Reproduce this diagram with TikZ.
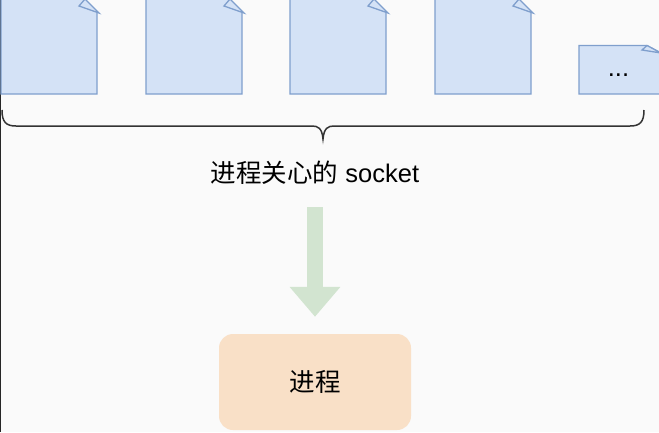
\documentclass[tikz,border=0pt]{standalone}
\usepackage{fontspec}
\setmainfont{Liberation Sans}
\newfontfamily\cjk{Noto Sans CJK SC}
\usetikzlibrary{arrows.meta}
\definecolor{pagefill}{HTML}{D4E2F6}
\definecolor{pageline}{HTML}{7F9FCD}
\definecolor{arrowfill}{HTML}{D2E4D0}
\definecolor{procfill}{HTML}{F9E0C7}
\definecolor{backfill}{HTML}{FAFAFA}
\tikzset{
  pagestyle/.style={draw=pageline,fill=pagefill,line width=1.3pt,line join=miter},
  bracestyle/.style={draw=black!80,line width=1.5pt},
  labelstyle/.style={font=\fontsize{25.5}{30}\selectfont,inner sep=0pt},
}

\begin{document}
\begin{tikzpicture}[x=1pt,y=-1pt]

\useasboundingbox (0,0) rectangle (659,432);
\clip (0,0) rectangle (659,432);
\fill[backfill] (0,0) rectangle (659,432);
\draw[black!85,line width=1.2pt] (0.5,0)--(0.5,432);

% tall pages
\foreach \x in {1,146,290,435}{
  \draw[pagestyle] (\x,-10)--(\x,94)--(\x+96,94)--(\x+96,12)--(\x+83,-1)--(\x+83,-10)--cycle;
  \draw[pagestyle] (\x+84,-1)--(\x+78,6)--(\x+98,13)--cycle;
}

% short page
\draw[pagestyle] (579,45.5)--(579,94)--(670,94)--(670,55)--(659,52)--(647,45.5)--cycle;
\draw[pagestyle] (647,45.5)--(642,50)--(661,53)--cycle;
\node[labelstyle] (dots) at (618.5,75) {...};

% brace
\coordinate (braceleft) at (2,110);
\coordinate (braceright) at (644,110);
\draw[bracestyle] (braceleft) .. controls (2,122) and (6,126) .. (16,126)
  -- (312,126) .. controls (318,126) and (322,128) .. (323,139)
  .. controls (324,128) and (328,126) .. (334,126)
  -- (630,126) .. controls (640,126) and (644,122) .. (braceright);

\node[labelstyle,minimum height=26pt] (cares) at (315,172.5) {{\cjk 进程关心的} socket};
\node[labelstyle,fill=procfill,rounded corners=14pt,minimum width=192pt,minimum height=96pt] (proc) at (315,382) {\cjk 进程};

\draw[arrowfill,line width=16pt,-{Triangle[length=30pt,width=49pt]},shorten <=21.5pt,shorten >=17pt,xshift=-0.8pt] (cares.south) -- (proc.north);

\end{tikzpicture}
\end{document}
